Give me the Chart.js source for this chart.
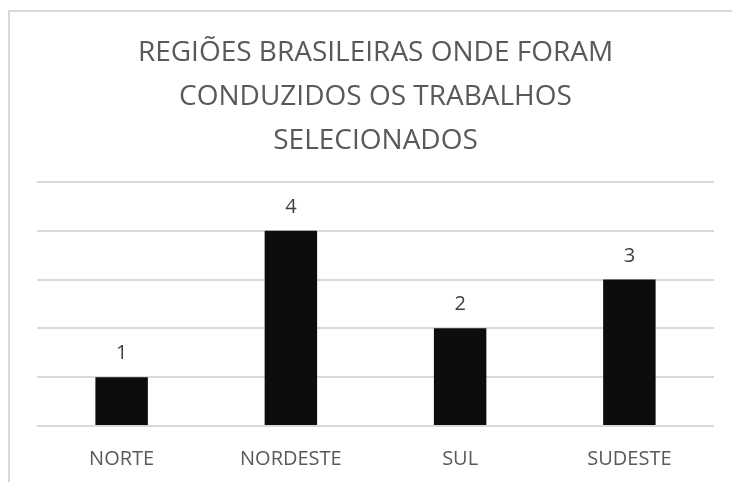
<!DOCTYPE html>
<html>
<head>
<meta charset="utf-8">
<script src="https://cdn.jsdelivr.net/npm/chart.js@4/dist/chart.umd.min.js"></script>
<style>
  html, body { margin: 0; padding: 0; background: #ffffff; }
  #frame { position: absolute; left: 0; top: 0; width: 732px; height: 482px; }
  #box { position: absolute; left: 8px; top: 10px; width: 730px; height: 480px;
         border-left: 2px solid #d9d9d9; border-top: 2px solid #d9d9d9; }
  canvas { position: absolute; left: 0; top: 0; }
</style>
</head>
<body>
<div id="frame">
  <div id="box"></div>
  <canvas id="c" width="732" height="482"></canvas>
</div>
<script>
const titleLines = ["REGIÕES BRASILEIRAS ONDE FORAM", "CONDUZIDOS OS TRABALHOS", "SELECIONADOS"];
const categories = ["NORTE", "NORDESTE", "SUL", "SUDESTE"];
const values = [1, 4, 2, 3];
const yTicks = [0, 1, 2, 3, 4, 5];

const labelPlugin = {
  id: 'valueLabels',
  afterDatasetsDraw(chart) {
    const ctx = chart.ctx;
    const meta = chart.getDatasetMeta(0);
    ctx.save();
    ctx.fillStyle = '#404040';
    ctx.font = '20px "Open Sans"';
    ctx.textAlign = 'center';
    ctx.textBaseline = 'alphabetic';
    meta.data.forEach((bar, i) => {
      ctx.fillText(String(values[i]), bar.x, bar.y - 18);
    });
    ctx.restore();
  }
};

new Chart(document.getElementById('c'), {
  type: 'bar',
  data: {
    labels: categories,
    datasets: [{
      data: values,
      backgroundColor: '#0d0d0d',
      borderColor: '#0d0d0d',
      borderWidth: 0,
      categoryPercentage: 1.0,
      barPercentage: 0.31
    }]
  },
  options: {
    responsive: false,
    animation: false,
    devicePixelRatio: 1,
    layout: { padding: { left: 37, right: 18, top: 31, bottom: 11 } },
    plugins: {
      legend: { display: false },
      tooltip: { enabled: false },
      title: {
        display: true,
        text: titleLines,
        color: '#595959',
        font: { family: '"Open Sans"', size: 28, weight: 'normal', lineHeight: 1.57 },
        padding: { top: 0, bottom: 19 }
      }
    },
    scales: {
      x: {
        grid: { display: false },
        border: { display: false },
        ticks: { color: '#595959', font: { family: '"Open Sans"', size: 20 }, padding: 13 },
        afterFit(scale) { scale.height = 45; }
      },
      y: {
        min: 0, max: 5,
        afterBuildTicks(axis) { axis.ticks = yTicks.map(v => ({ value: v })); },
        ticks: { display: false },
        grid: { color: '#d9d9d9', lineWidth: 2, drawTicks: false },
        border: { display: false }
      }
    }
  },
  plugins: [labelPlugin]
});
</script>
</body>
</html>
